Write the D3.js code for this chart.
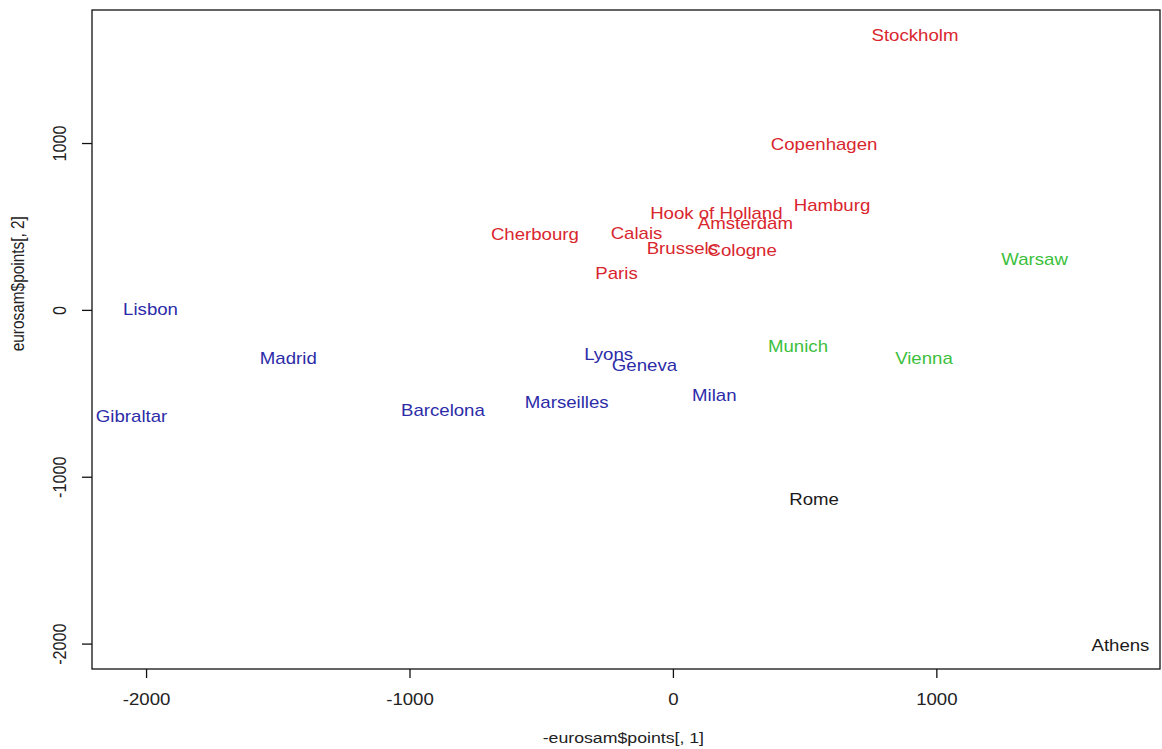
<!DOCTYPE html>
<html>
<head>
<meta charset="utf-8">
<script src="https://cdn.jsdelivr.net/npm/d3@7"></script>
<style>
  body { margin: 0; background: #fff; }
  svg { display: block; }
  text { font-family: "Liberation Sans", Arial, sans-serif; }
</style>
</head>
<body>
<svg id="chart" width="1162" height="749"></svg>
<script>
// sammon map of eurodist
const cities = [
  "Athens", "Barcelona", "Brussels", "Calais", "Cherbourg", "Cologne",
  "Copenhagen", "Geneva", "Gibraltar", "Hamburg", "Hook of Holland",
  "Lisbon", "Lyons", "Madrid", "Marseilles", "Milan", "Munich", "Paris",
  "Rome", "Stockholm", "Vienna", "Amsterdam", "Warsaw",
];
const xVals = [
  1697, -875, 34, -140, -526, 261,
  572, -110, -2057, 602, 163,
  -1985, -246, -1462, -405, 155, 473, -216,
  534, 917, 951, 273, 1371,
];
const yVals = [
  -2003, -591, 379, 468, 462, 367,
  1002, -321, -627, 636, 588,
  14, -256, -280, -543, -501, -213, 229,
  -1130, 1654, -280, 528, 313,
];
// cluster of each city
const groups = [
  4, 2, 1, 1, 1, 1,
  1, 2, 2, 1, 1,
  2, 2, 2, 2, 2, 3, 1,
  4, 1, 3, 1, 3,
];
const xTicks = [-2000, -1000, 0, 1000];
const yTicks = [-2000, -1000, 0, 1000];

const colours = { 1: "#d9262e", 2: "#2c2ca8", 3: "#3cbf3c", 4: "#1a1a1a" };
const margins = { left: 92, right: 2, top: 10, bottom: 80 };
const stretch = 1.15;
const fontSize = 16.2;

const svg = d3.select("#chart");
const width = +svg.attr("width") - margins.left - margins.right;
const height = +svg.attr("height") - margins.top - margins.bottom;

// R style 4% padding around the data range
const pad = (ext) => {
  const d = (ext[1] - ext[0]) * 0.04;
  return [ext[0] - d, ext[1] + d];
};

const x = d3.scaleLinear().domain(pad(d3.extent(xVals))).range([0, width]);
const y = d3.scaleLinear().domain(pad(d3.extent(yVals))).range([height, 0]);

const g = svg.append("g")
  .attr("transform", `translate(${margins.left},${margins.top})`);

// frame
g.append("rect")
  .attr("x", 0).attr("y", 0)
  .attr("width", width).attr("height", height)
  .style("fill", "none")
  .style("stroke", "#111")
  .style("stroke-width", 1.3);

const label = (sel, size) =>
  sel.attr("text-anchor", "middle")
    .attr("dominant-baseline", "central")
    .style("font-size", `${size}px`);

// x axis
const xAxis = g.append("g").attr("class", "x-axis");
xAxis.selectAll("line")
  .data(xTicks)
  .join("line")
  .attr("x1", (d) => x(d)).attr("x2", (d) => x(d))
  .attr("y1", height).attr("y2", height + 9)
  .style("stroke", "#111").style("stroke-width", 1.3);
xAxis.selectAll("text")
  .data(xTicks)
  .join("text")
  .attr("transform", (d) => `translate(${x(d)},${height + 30}) scale(${stretch},1)`)
  .call(label, fontSize)
  .style("fill", "#222")
  .text((d) => d);

// y axis
const yAxis = g.append("g").attr("class", "y-axis");
yAxis.selectAll("line")
  .data(yTicks)
  .join("line")
  .attr("x1", -10).attr("x2", 0)
  .attr("y1", (d) => y(d)).attr("y2", (d) => y(d))
  .style("stroke", "#111").style("stroke-width", 1.3);
yAxis.selectAll("text")
  .data(yTicks)
  .join("text")
  .attr("transform", (d) => `translate(-32,${y(d)}) scale(${stretch},1) rotate(-90)`)
  .call(label, fontSize)
  .style("fill", "#222")
  .text((d) => d);

// axis titles
svg.append("text")
  .attr("transform", `translate(${margins.left + x(-190)},738) scale(${stretch},1)`)
  .call(label, fontSize - 0.8)
  .style("fill", "#222")
  .text("-eurosam$points[, 1]");
svg.append("text")
  .attr("transform", `translate(18,${margins.top + y(160)}) scale(${stretch},1) rotate(-90)`)
  .call(label, fontSize - 0.8)
  .style("fill", "#222")
  .text("eurosam$points[, 2]");

// city names
g.append("g")
  .attr("class", "cities")
  .selectAll("text")
  .data(cities.map((c, i) => ({ name: c, x: xVals[i], y: yVals[i], grp: groups[i] })))
  .join("text")
  .attr("transform", (d) => `translate(${x(d.x)},${y(d.y) + 1}) scale(${stretch},1)`)
  .call(label, fontSize)
  .style("fill", (d) => colours[d.grp])
  .text((d) => d.name);
</script>
</body>
</html>
